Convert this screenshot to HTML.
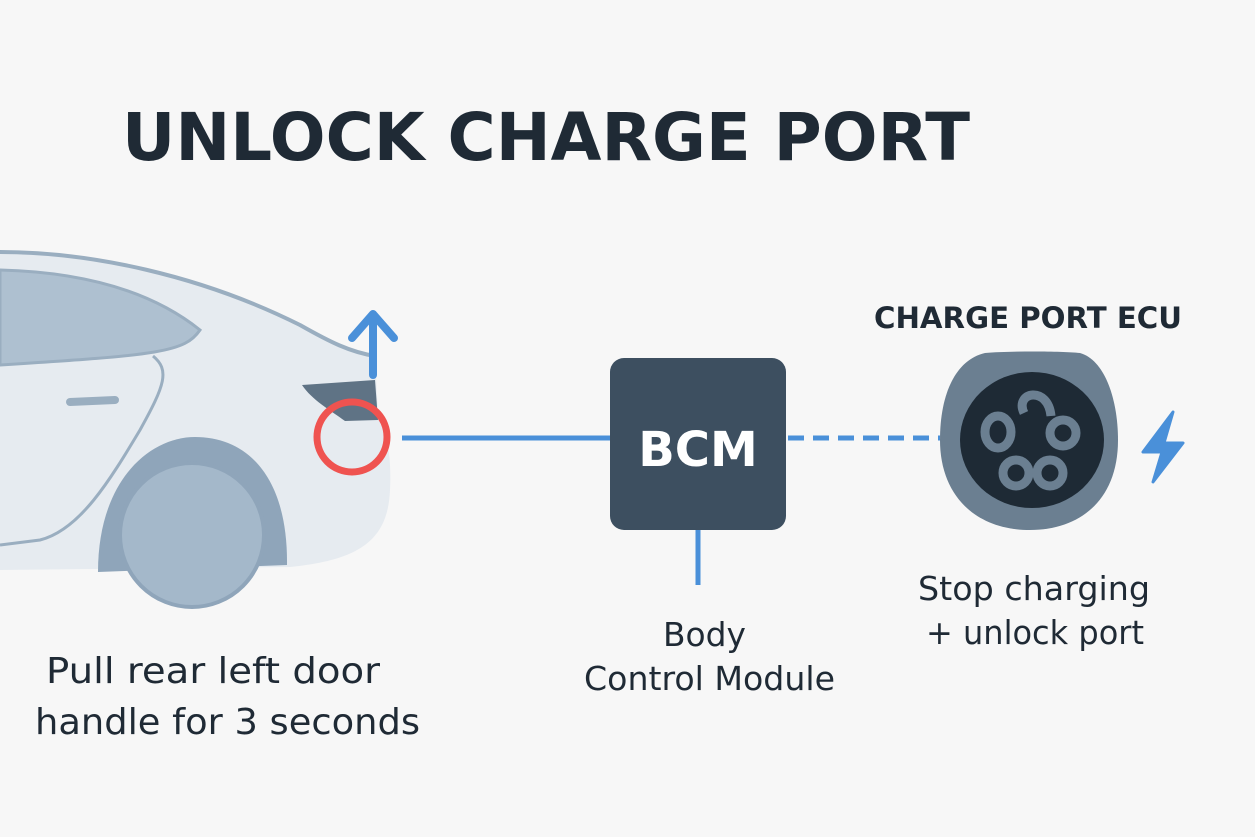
<!DOCTYPE html>
<html><head><meta charset="utf-8"><style>
body{margin:0;background:#f7f7f7;}
svg{display:block}
text{font-family:"DejaVu Sans","Liberation Sans",sans-serif;fill:#1f2a35}
</style></head><body>
<svg width="1255" height="837" viewBox="0 0 1255 837">
<rect width="1255" height="837" fill="#f7f7f7"/>
<text x="122" y="160" font-size="66" font-weight="bold" textLength="848" lengthAdjust="spacingAndGlyphs">UNLOCK CHARGE PORT</text>
<!-- car body -->
<path d="M0 252 C90 252 200 275 300 325 C330 342 350 352 375 356 L378 415 C385 430 392 450 390 490 C388 540 360 560 290 567 L0 570 Z" fill="#e6ebf0"/>
<path d="M0 252 C90 252 200 275 300 325 C330 342 350 352 375 356" fill="none" stroke="#9aaec0" stroke-width="4"/>
<path d="M0 270 C80 272 150 290 200 330 C185 352 160 355 0 365 Z" fill="#aec0d0" stroke="#9aaec0" stroke-width="3"/>
<path d="M153 356 C170 370 165 385 140 430 C110 480 80 530 40 540 L0 545" fill="none" stroke="#9aaec0" stroke-width="3"/>
<path d="M70 402 L115 400" stroke="#9aaec0" stroke-width="8" stroke-linecap="round"/>
<path d="M98 572 C98 480 150 437 195 437 C250 437 288 480 287 565 Z" fill="#8fa5ba"/>
<circle cx="192" cy="535" r="72" fill="#a4b8ca" stroke="#8fa5ba" stroke-width="4"/>
<path d="M302 385 L375 380 L378 420 L345 421 C330 410 312 400 302 385 Z" fill="#5f7385"/>
<circle cx="352" cy="437" r="35" fill="none" stroke="#ef5350" stroke-width="7"/>
<path d="M373 375 L373 316 M352 338 L373 314 L394 338" fill="none" stroke="#4a90d9" stroke-width="8" stroke-linecap="round" stroke-linejoin="round"/>
<line x1="402" y1="438" x2="612" y2="438" stroke="#4a90d9" stroke-width="5"/>
<rect x="610" y="358" width="176" height="172" rx="14" fill="#3d4f60"/>
<text x="698" y="466" font-size="48" font-weight="bold" text-anchor="middle" style="fill:#fff">BCM</text>
<line x1="698" y1="530" x2="698" y2="585" stroke="#4a90d9" stroke-width="5"/>
<line x1="788" y1="438" x2="940" y2="438" stroke="#4a90d9" stroke-width="5" stroke-dasharray="16 9"/>
<path d="M985 353 C1010 351 1060 351 1080 353 C1105 360 1118 400 1118 440 C1118 500 1080 530 1030 530 C975 530 940 495 940 440 C940 395 955 360 985 353 Z" fill="#6b7f91"/>
<ellipse cx="1032" cy="440" rx="72" ry="68" fill="#1e2a35"/>
<g fill="none" stroke="#6b7f91" stroke-width="9">
<path d="M1024 413 C1014 392 1048 385 1051 416"/>
<ellipse cx="998" cy="432" rx="13" ry="16"/>
<circle cx="1063" cy="433" r="13"/>
<circle cx="1016" cy="473" r="13"/>
<circle cx="1050" cy="473" r="13"/>
</g>
<path d="M1173 412 L1143 452 L1162 452 L1153 482 L1183 443 L1164 443 Z" fill="#4a90d9" stroke="#4a90d9" stroke-width="3" stroke-linejoin="round"/>
<text x="874" y="328" font-size="29" font-weight="bold" textLength="308" lengthAdjust="spacingAndGlyphs">CHARGE PORT ECU</text>
<text x="918" y="600" font-size="33" textLength="232" lengthAdjust="spacingAndGlyphs">Stop charging</text>
<text x="926" y="644" font-size="33" textLength="218" lengthAdjust="spacingAndGlyphs">+ unlock port</text>
<text x="663" y="646" font-size="33" textLength="83" lengthAdjust="spacingAndGlyphs">Body</text>
<text x="584" y="690" font-size="33" textLength="251" lengthAdjust="spacingAndGlyphs">Control Module</text>
<text x="46" y="683" font-size="36" textLength="334" lengthAdjust="spacingAndGlyphs">Pull rear left door</text>
<text x="35" y="734" font-size="36" textLength="385" lengthAdjust="spacingAndGlyphs">handle for 3 seconds</text>
</svg>
</body></html>
